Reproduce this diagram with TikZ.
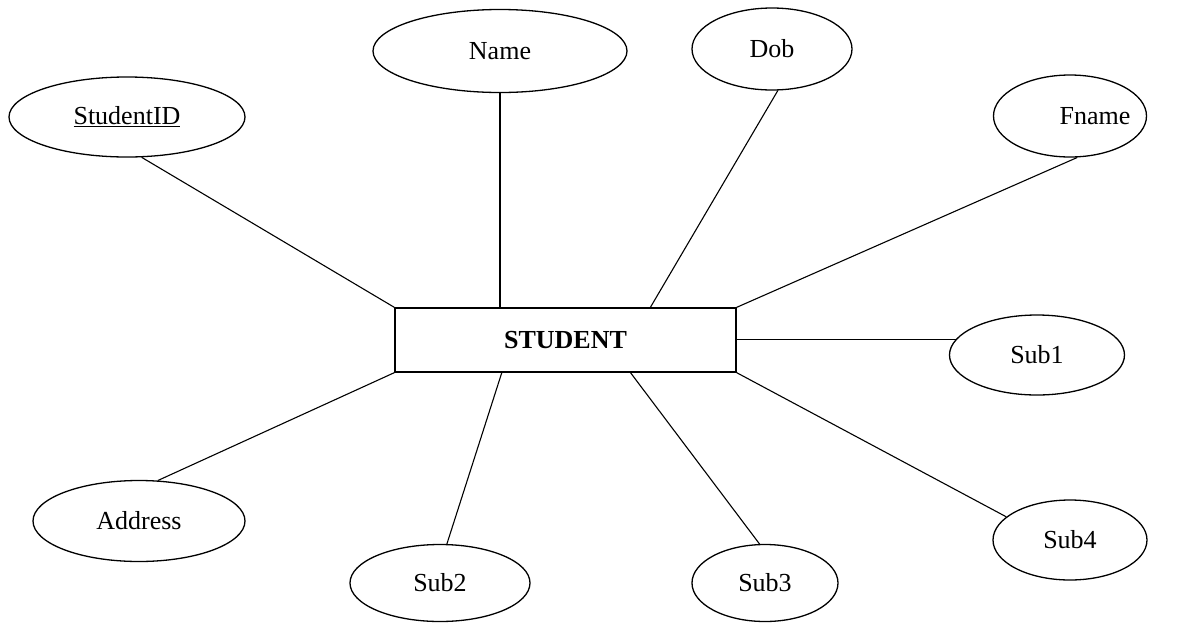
\documentclass[tikz,border=0pt]{standalone}
\usepackage{fontspec}
\setmainfont{Liberation Serif}
\usetikzlibrary{shapes.geometric}
\begin{document}
\begin{tikzpicture}[x=1pt,y=-1pt,
  attr/.style={draw,ellipse,line width=1.3pt,inner sep=0pt,font=\fontsize{26}{30}\selectfont},
  ent/.style={draw,rectangle,line width=1.3pt,inner sep=0pt,font=\fontsize{26}{30}\selectfont\bfseries},
  link/.style={line width=1.1pt}]
\useasboundingbox[fill=white] (0,0) rectangle (1203,630);
\node[ent,minimum width=341pt,minimum height=64pt] (stu) at (565.5,340) {STUDENT};
\node[attr,minimum width=236pt,minimum height=80pt] (sid) at (127,117) {\underline{StudentID}};
\node[attr,minimum width=254pt,minimum height=83pt] (name) at (500,51) {Name};
\node[attr,minimum width=160pt,minimum height=82pt] (dob) at (772,49) {Dob};
\node[attr,inner xsep=-14pt,minimum width=153pt,minimum height=82pt] (fname) at (1070,116) {\hspace*{50pt}Fname};
\node[attr,minimum width=175pt,minimum height=80pt] (sub1) at (1037,355) {Sub1};
\node[attr,minimum width=212pt,minimum height=81pt] (addr) at (139,521) {Address};
\node[attr,minimum width=180pt,minimum height=77pt] (sub2) at (440,583) {Sub2};
\node[attr,minimum width=146pt,minimum height=77pt] (sub3) at (765,583) {Sub3};
\node[attr,minimum width=154pt,minimum height=80pt] (sub4) at (1070,540) {Sub4};
\coordinate (tname) at (500,308);
\coordinate (tdob) at (650,308);
\coordinate (bsub2) at (502,372);
\coordinate (bsub3) at (630,372);
\coordinate (esub1) at (sub1.169.5 -| stu.east);
\draw[link] (sid.-70) -- (stu.north west);
\draw[link] (name.south) -- (tname);
\draw[link] (dob.-82) -- (tdob);
\draw[link] (fname.-80) -- (stu.north east);
\draw[link] (esub1) -- (sub1.169.5);
\draw[link] (addr.65) -- (stu.south west);
\draw[link] (sub2.80) -- (bsub2);
\draw[link] (sub3.98) -- (bsub3);
\draw[link] (sub4.160) -- (stu.south east);
\end{tikzpicture}
\end{document}
